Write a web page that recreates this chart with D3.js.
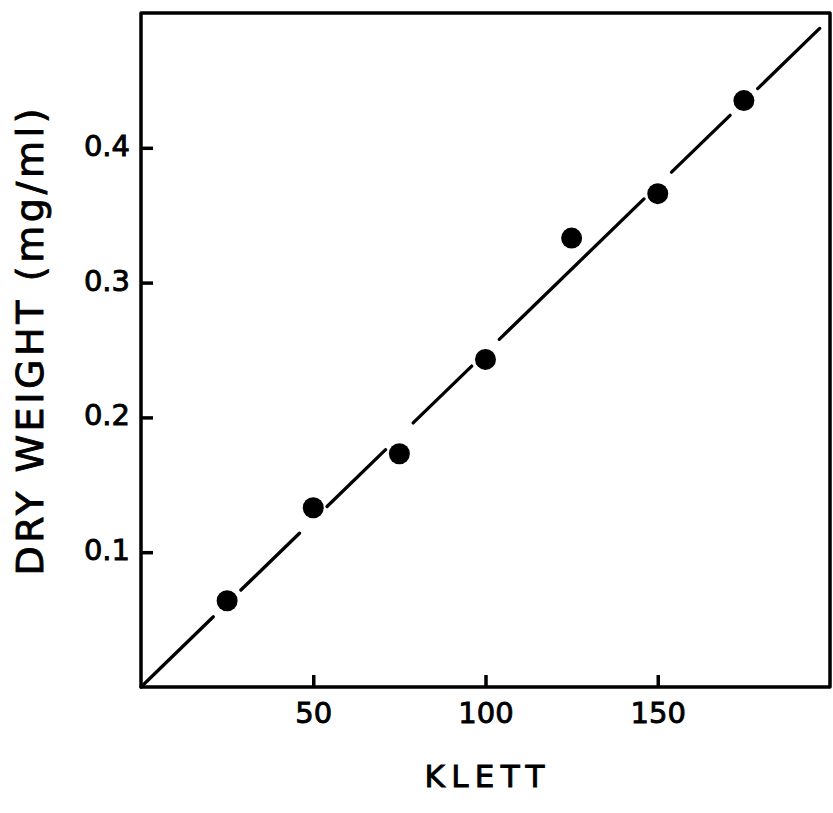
<!DOCTYPE html>
<html>
<head>
<meta charset="utf-8">
<script src="https://cdn.jsdelivr.net/npm/d3@7"></script>
<style>
  html, body { margin: 0; padding: 0; background: #fff; }
  svg { display: block; }
  text { font-family: "DejaVu Sans", sans-serif; fill: #000; stroke: #000; stroke-width: 0.9px; }
</style>
</head>
<body>
<svg id="chart" width="833" height="813"></svg>
<script>
// Calibration data: Klett reading vs. dry weight
const klett = [25, 50, 75, 100, 125, 150, 175];
const dryWeight = [0.064, 0.133, 0.173, 0.243, 0.333, 0.366, 0.435];

// Fitted calibration line through the origin
const fitSlope = 0.00248;        // mg/ml per Klett unit
const fitRange = [0, 197];       // Klett span covered by the line

const xTicks = [50, 100, 150];
const yTicks = [0.1, 0.2, 0.3, 0.4];
const xDomain = [0, 200];
const yDomain = [0, 0.5];
const xTitle = "KLETT";
const yTitle = "DRY WEIGHT (mg/ml)";

const svg = d3.select("#chart");
const plot = { left: 141, right: 830, top: 13, bottom: 687 };

const x = d3.scaleLinear().domain(xDomain).range([plot.left, plot.right]);
const y = d3.scaleLinear().domain(yDomain).range([plot.bottom, plot.top]);

// Frame
svg.append("rect")
  .attr("x", plot.left).attr("y", plot.top)
  .attr("width", plot.right - plot.left)
  .attr("height", plot.bottom - plot.top)
  .attr("fill", "none").attr("stroke", "#000")
  .attr("stroke-width", 3.5).attr("stroke-linejoin", "round");

// Axes with inward ticks
const xAxis = svg.append("g")
  .attr("transform", `translate(0,${plot.bottom})`)
  .call(d3.axisBottom(x).tickValues(xTicks).tickSize(-12).tickPadding(15).tickFormat(d3.format("d")));
const yAxis = svg.append("g")
  .attr("transform", `translate(${plot.left},0)`)
  .call(d3.axisLeft(y).tickValues(yTicks).tickSize(-12).tickPadding(11).tickFormat(d3.format(".1f")));

[xAxis, yAxis].forEach(g => {
  g.select(".domain").remove();
  g.selectAll(".tick line").attr("stroke", "#000").attr("stroke-width", 3.5);
  g.selectAll(".tick text")
    .style("font-family", "'DejaVu Sans', sans-serif")
    .style("font-size", "29px")
    .attr("fill", "#000");
});
xAxis.selectAll(".tick text").attr("dy", "0.71em");
yAxis.selectAll(".tick text").attr("dy", "0.26em");

// Fitted line, broken where a point sits on it
const gapHalf = 4; // Klett units on each side of a point
const nearLine = klett.filter((k, i) => {
  const dyPx = Math.abs(y(dryWeight[i]) - y(fitSlope * k));
  return dyPx < 20;
});
const breaks = [];
let start = fitRange[0];
nearLine.forEach(k => {
  breaks.push([start, k - gapHalf]);
  start = k + gapHalf;
});
breaks.push([start, fitRange[1]]);

const line = d3.line().x(d => x(d)).y(d => y(fitSlope * d));
svg.append("g").selectAll("path")
  .data(breaks)
  .join("path")
  .attr("d", d => line(d))
  .attr("fill", "none").attr("stroke", "#000")
  .attr("stroke-width", 3.3).attr("stroke-linecap", "round");

// Data points
svg.append("g").selectAll("circle")
  .data(klett.map((k, i) => [k, dryWeight[i]]))
  .join("circle")
  .attr("cx", d => x(d[0]))
  .attr("cy", d => y(d[1]))
  .attr("r", 10.5)
  .attr("fill", "#000");

// Axis titles
svg.append("text")
  .attr("x", (plot.left + plot.right) / 2 - 1)
  .attr("y", 787)
  .attr("text-anchor", "middle")
  .attr("textLength", 120).attr("lengthAdjust", "spacing")
  .style("font-size", "31px")
  .text(xTitle);

svg.append("text")
  .attr("transform", `translate(43,342) rotate(-90)`)
  .attr("text-anchor", "middle")
  .attr("textLength", 467).attr("lengthAdjust", "spacing")
  .style("font-size", "38px")
  .text(yTitle);
</script>
</body>
</html>
